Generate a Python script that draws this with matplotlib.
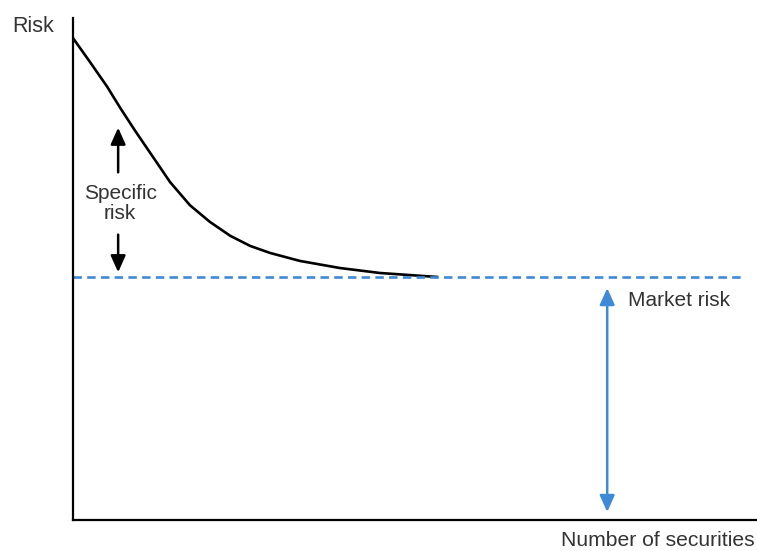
import matplotlib.pyplot as plt

# values (x: number of securities 0-100, y: risk 0-100)
curve_x = [0, 2.5, 5.0, 6.9, 9.1, 11.3, 14.2, 17.1, 20.0, 23.0, 25.9,
           28.8, 33.2, 39.0, 44.9, 53.4]
curve_y = [96.0, 91.2, 86.3, 82.1, 77.5, 73.1, 67.3, 62.7, 59.4, 56.6, 54.6,
           53.2, 51.6, 50.2, 49.2, 48.4]
market_level = 48.4
market_end = 98.2

specific_x = 6.6
market_x = 78.1

blue = '#3f8ad6'
text_col = '#333333'
font = 'Liberation Sans'

fig = plt.figure(figsize=(7.57, 5.51), dpi=100)
ax = fig.add_axes([73 / 757, 31 / 551, 684 / 757, 502 / 551])
ax.set_xlim(0, 100)
ax.set_ylim(0, 100)
for s in ['top', 'right']:
    ax.spines[s].set_visible(False)
for s in ['left', 'bottom']:
    ax.spines[s].set_linewidth(1.6)
ax.set_xticks([])
ax.set_yticks([])

# curve and market-risk level
ax.plot(curve_x, curve_y, color='black', lw=1.9, solid_joinstyle='round',
        solid_capstyle='butt')
ax.plot([0, market_end], [market_level, market_level], color=blue, lw=1.9,
        ls=(0, (3.2, 2.0)))

# specific risk arrows
arrow_k = dict(arrowstyle='-|>,head_width=0.45,head_length=1.0', color='black', lw=1.8)
ax.annotate('', xy=(specific_x, 78.7), xytext=(specific_x, 68.7), arrowprops=arrow_k)
ax.annotate('', xy=(specific_x, 48.8), xytext=(specific_x, 57.4), arrowprops=arrow_k)
ax.text(specific_x + 0.3, 63.1, 'Specific\nrisk', ha='center', va='center',
        fontsize=15, family=font, color=text_col, linespacing=1.05)

# market risk arrow
arrow_b = dict(arrowstyle='<|-|>,head_width=0.45,head_length=1.0', color=blue, lw=1.8,
               shrinkA=0, shrinkB=0)
ax.annotate('', xy=(market_x, 46.2), xytext=(market_x, 1.6), arrowprops=arrow_b)
ax.text(81.1, 43.8, 'Market risk', ha='left', va='center', fontsize=15,
        family=font, color=text_col)

fig.text(12 / 757, 1 - 27 / 551, 'Risk', ha='left', va='center', fontsize=15.5,
         family=font, color=text_col)
fig.text(755 / 757, 1 - 541 / 551, 'Number of securities', ha='right', va='center',
         fontsize=15.2, family=font, color=text_col)

fig.savefig('out.png', dpi=100, facecolor='white')
